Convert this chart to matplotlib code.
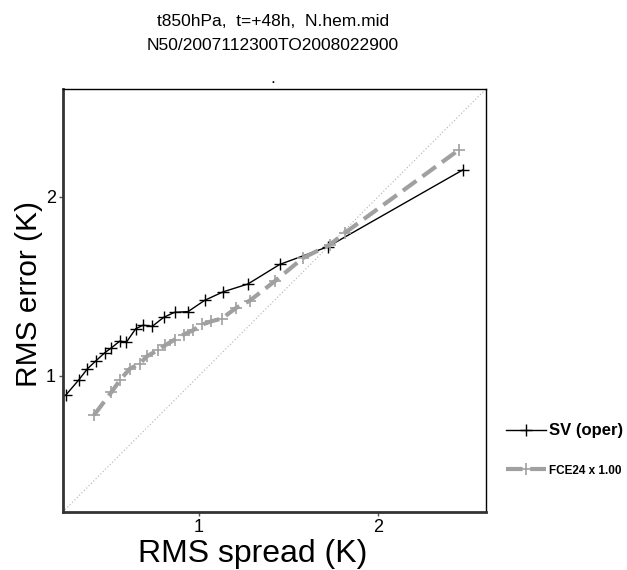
import matplotlib
matplotlib.use("Agg")
import matplotlib.pyplot as plt

plt.rcParams["font.family"] = ["Liberation Sans", "DejaVu Sans"]

# RMS spread vs RMS error (K)
sv_spread = [0.257, 0.329, 0.378, 0.423, 0.474, 0.512, 0.558, 0.595, 0.647, 0.688,
             0.740, 0.803, 0.864, 0.939, 1.032, 1.134, 1.273, 1.450, 1.719, 2.472]
sv_error = [0.892, 0.976, 1.039, 1.081, 1.128, 1.156, 1.193, 1.187, 1.262, 1.282,
            1.276, 1.326, 1.354, 1.358, 1.421, 1.468, 1.512, 1.621, 1.720, 2.149]

fce_spread = [0.415, 0.512, 0.562, 0.614, 0.669, 0.710, 0.771, 0.809, 0.865, 0.915,
              0.967, 1.019, 1.069, 1.127, 1.208, 1.283, 1.422, 1.580, 1.729, 1.812, 2.449]
fce_error = [0.781, 0.909, 0.979, 1.039, 1.067, 1.109, 1.143, 1.169, 1.202, 1.230,
             1.254, 1.286, 1.304, 1.319, 1.379, 1.419, 1.527, 1.657, 1.731, 1.796, 2.260]

ticks = [1, 2]
lims = (0.24, 2.6)

fig = plt.figure(figsize=(6.27, 5.7), dpi=100)
ax = fig.add_axes([0.1, 0.1018, 0.675, 0.7421])

ax.axline((0, 0), slope=1, color="#b0b0b0", lw=0.8, ls=(0, (1, 2)))
ax.plot(sv_spread, sv_error, color="black", lw=1.0, marker="+", ms=8, mew=1.0,
        label="SV (oper)")
ax.plot(fce_spread, fce_error, color="#a0a0a0", lw=3.0, ls=(0, (4, 1.8)),
        marker="+", ms=8, mew=1.2, label="FCE24 x 1.00")

ax.set_xlim(lims)
ax.set_ylim(lims)
ax.set_xticks(ticks)
ax.set_yticks(ticks)
ax.tick_params(length=3, width=1, color="#555555", labelsize=13, pad=2)
for side in ["left", "bottom"]:
    ax.spines[side].set_linewidth(2)
    ax.spines[side].set_color("#333333")
for side in ["top", "right"]:
    ax.spines[side].set_linewidth(1)

ax.set_xlabel("RMS spread (K)", fontsize=23, labelpad=2)
ax.set_ylabel("RMS error (K)", fontsize=21.5, labelpad=2)
ax.xaxis.label.set_x(0.45)
ax.yaxis.label.set_y(0.515)

fig.text(0.435, 0.963, "t850hPa,  t=+48h,  N.hem.mid", ha="center", va="center", fontsize=12.5)
fig.text(0.435, 0.920, "N50/2007112300TO2008022900", ha="center", va="center", fontsize=12.5)
fig.text(0.435, 0.862, ".", ha="center", va="center", fontsize=12.5)

leg = ax.legend(loc="center left", bbox_to_anchor=(1.017, 0.147), frameon=False,
                handlelength=2.9, handletextpad=0.2, labelspacing=1.85)
leg.get_texts()[0].set_fontsize(12)
leg.get_texts()[0].set_fontweight("bold")
leg.get_texts()[1].set_fontsize(8.5)
leg.get_texts()[1].set_fontweight("bold")

fig.savefig("out.png", dpi=100)
